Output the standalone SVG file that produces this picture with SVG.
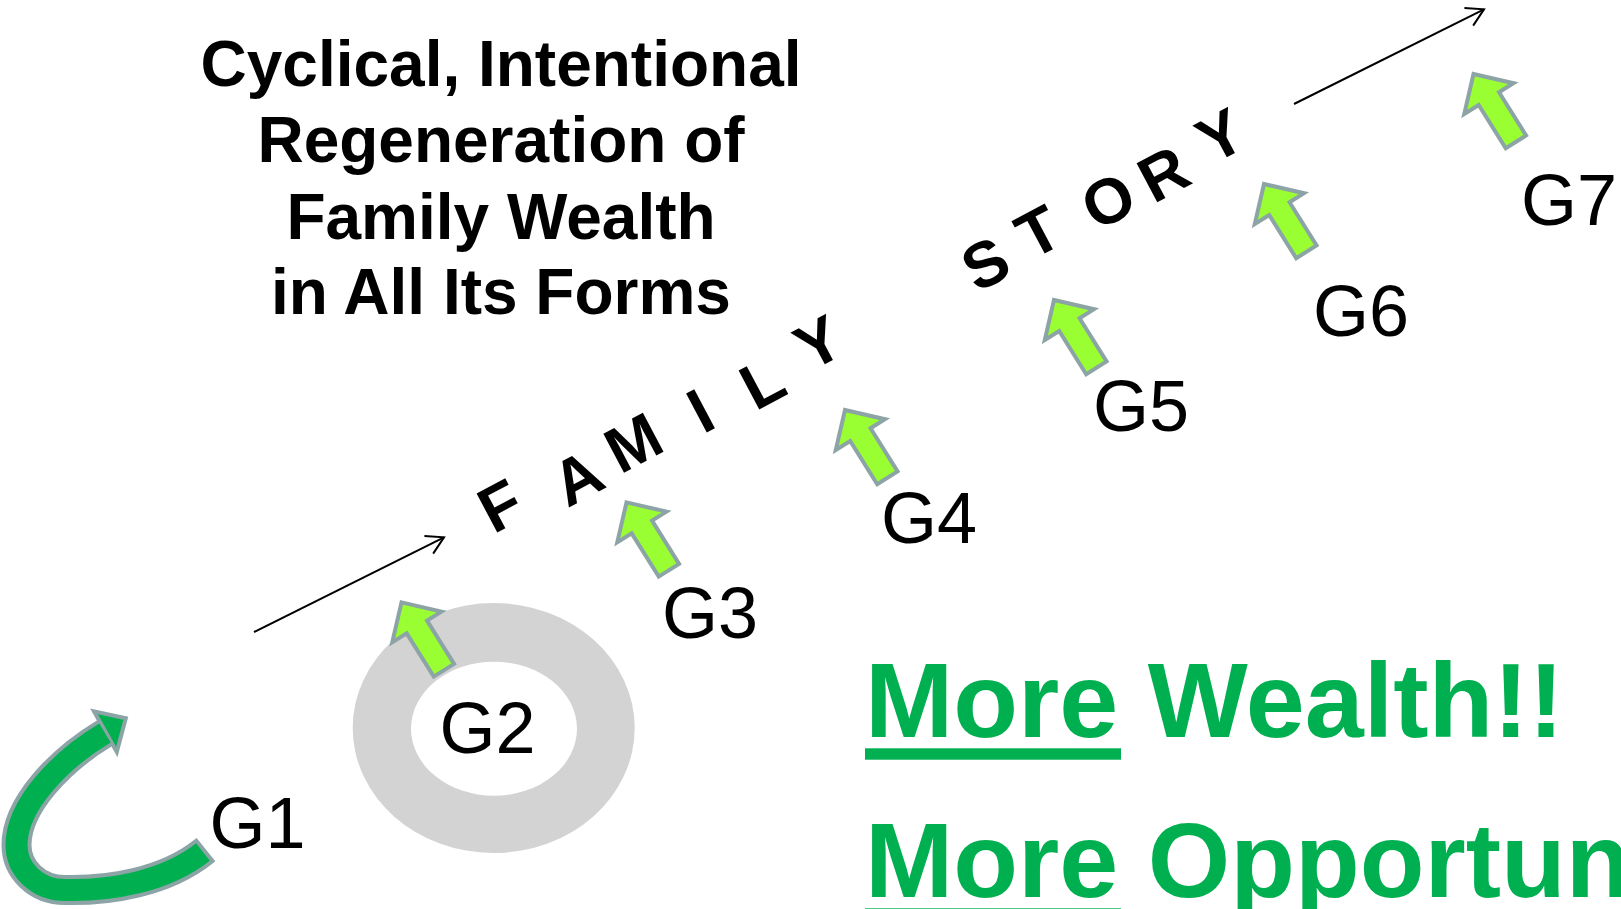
<svg xmlns="http://www.w3.org/2000/svg" width="1621" height="909" viewBox="0 0 1621 909">
  <defs>
    <style>
      .title { font-family: "Liberation Sans", Arial, sans-serif; font-weight: bold; font-size: 64px; fill: #000; text-anchor: middle; }
      .gen { font-family: "Liberation Sans", Arial, sans-serif; font-size: 72px; fill: #000; }
      .word { font-family: "Liberation Sans", Arial, sans-serif; font-weight: bold; font-size: 64px; fill: #000; text-anchor: middle; }
      .more { font-family: "Liberation Sans", Arial, sans-serif; font-weight: bold; font-size: 106px; fill: #00B050; }
      .lime { fill: #99FF33; stroke: #8DA4A6; stroke-width: 4; stroke-linejoin: miter; }
      .thin { fill: none; stroke: #000; stroke-width: 2; }
    </style>
    <!-- block arrow pointing up, tip at origin -->
    <path id="blk" d="M0,0 L29,29 L12,29 L12,80 L-12,80 L-12,29 L-29,29 Z"/>
    <marker id="open" viewBox="-20 -12 24 24" markerWidth="24" markerHeight="24" refX="0" refY="0" orient="auto" markerUnits="userSpaceOnUse">
      <path d="M-17,-9.8 L0,0 L-17,9.8" fill="none" stroke="#000" stroke-width="2"/>
    </marker>
  </defs>

  <rect width="1621" height="909" fill="#fff"/>

  <!-- heading -->
  <g id="title">
    <text class="title" x="501" y="86">Cyclical, Intentional</text>
    <text class="title" x="501" y="162">Regeneration of</text>
    <text class="title" x="501" y="239">Family Wealth</text>
    <text class="title" x="501" y="314">in All Its Forms</text>
  </g>

  <!-- direction lines -->
  <g id="connectors">
    <line class="thin" x1="254" y1="632" x2="444" y2="537.3" marker-end="url(#open)"/>
    <line class="thin" x1="1294" y1="104" x2="1484" y2="9.3" marker-end="url(#open)"/>
  </g>

  <!-- slanted lettering -->
  <g id="family-story">
    <text class="word" transform="translate(500,505) rotate(-28)" y="23">F</text>
    <text class="word" transform="translate(577,477) rotate(-28)" y="23">A</text>
    <text class="word" transform="translate(633,442) rotate(-28)" y="23">M</text>
    <text class="word" transform="translate(700,410) rotate(-28)" y="23">I</text>
    <text class="word" transform="translate(762,382) rotate(-28)" y="23">L</text>
    <text class="word" transform="translate(818,342) rotate(-28)" y="23">Y</text>
    <text class="word" transform="translate(985,263) rotate(-28)" y="23">S</text>
    <text class="word" transform="translate(1038,231) rotate(-28)" y="23">T</text>
    <text class="word" transform="translate(1108,200) rotate(-28)" y="23">O</text>
    <text class="word" transform="translate(1163,173) rotate(-28)" y="23">R</text>
    <text class="word" transform="translate(1220,135) rotate(-28)" y="23">Y</text>
  </g>

  <!-- generation 1: curved arrow -->
  <g id="g1">
    <path d="M206,849.6 L203,852 C165,882 110,891 65,890 C37,890 16.5,869.3 16.5,845 C16.5,805 60,760 105,733" fill="none" stroke="#8DA4A6" stroke-width="30"/>
    <polygon points="125.8,718.3 94,711.3 116.8,752" fill="#00B050" stroke="#8DA4A6" stroke-width="4" stroke-linejoin="miter"/>
    <path d="M203,852 C165,882 110,891 65,890 C37,890 16.5,869.3 16.5,845 C16.5,805 60,760 105,733" fill="none" stroke="#00B050" stroke-width="22"/>
    <text class="gen" x="209.5" y="848">G1</text>
  </g>

  <!-- generation 2: ring -->
  <g id="g2">
    <path d="M352.7,728 a141,125 0 1,0 282,0 a141,125 0 1,0 -282,0 Z M411,728.7 a83,67 0 1,1 166,0 a83,67 0 1,1 -166,0 Z" fill="#D3D3D3" fill-rule="evenodd"/>
    <use href="#blk" class="lime" transform="translate(401.5,602.4) rotate(-32)"/>
    <text class="gen" x="439.5" y="753">G2</text>
  </g>

  <g id="g3">
    <use href="#blk" class="lime" transform="translate(626.5,502.4) rotate(-32)"/>
    <text class="gen" x="662" y="638">G3</text>
  </g>

  <g id="g4">
    <use href="#blk" class="lime" transform="translate(845,410) rotate(-32)"/>
    <text class="gen" x="881" y="543">G4</text>
  </g>

  <g id="g5">
    <use href="#blk" class="lime" transform="translate(1054,300) rotate(-32)"/>
    <text class="gen" x="1093" y="431">G5</text>
  </g>

  <g id="g6">
    <use href="#blk" class="lime" transform="translate(1264,184) rotate(-32)"/>
    <text class="gen" x="1313" y="336">G6</text>
  </g>

  <g id="g7">
    <use href="#blk" class="lime" transform="translate(1473.5,74) rotate(-32)"/>
    <text class="gen" x="1521" y="225">G7</text>
  </g>

  <!-- outcome -->
  <g id="outcome">
    <text class="more" x="865" y="736.7">More Wealth!!</text>
    <rect x="865" y="748.3" width="256" height="11.4" fill="#00B050"/>
    <text class="more" x="865" y="896.7">More Opportun</text>
    <rect x="865" y="908.3" width="256" height="11.4" fill="#00B050"/>
  </g>
</svg>
